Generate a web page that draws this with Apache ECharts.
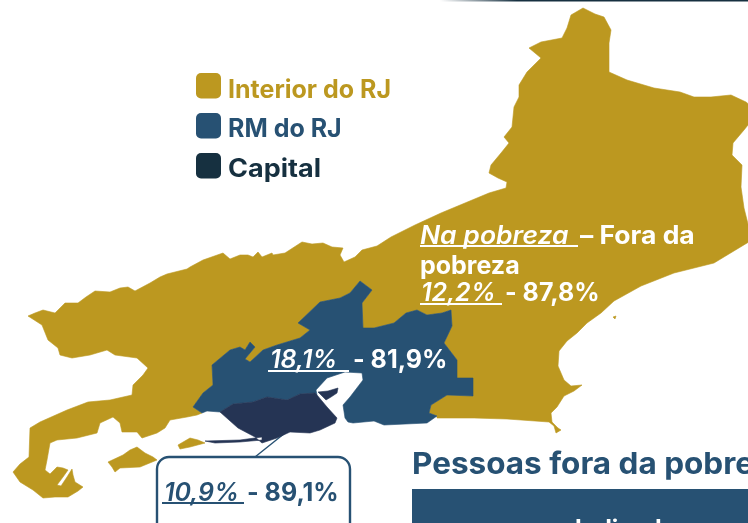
<!DOCTYPE html>
<html><head><meta charset="utf-8">
<style>html,body{margin:0;padding:0;background:#fff;overflow:hidden}#c{width:748px;height:523px}</style>
<script src="https://cdn.jsdelivr.net/npm/echarts@6/dist/echarts.min.js"></script>
</head><body><div id="c"></div>
<script>
// Region names and values (share in poverty, share out of poverty)
var regionNames = ['Interior do RJ', 'RM do RJ', 'Capital'];
var naPobreza = [12.2, 18.1, 10.9];
var foraPobreza = [87.8, 81.9, 89.1];
var regionColors = ['#BC9820', '#275173', '#253454'];
var legendSwatchColors = ['#BC9820', '#275173', '#163040'];
var legendTextColors = ['#BC9820', '#275173', '#163040'];

// Traced outlines of the map geometry (picture coordinates)
var northBorder = [[28,316],[35,313],[43,310],[55,313],[60,308],[65,303],[78,303],[86,297],[95,291],[110,292],[120,288],[128,287],[135,291],[150,283],[160,277],[167,274],[187,269],[190,267],[203,260],[223,253],[230,259],[240,255],[248,255],[253,257],[258,252],[262,257],[272,253],[273,255],[285,253],[302,242],[312,244],[323,243],[332,247],[343,248],[340,255],[344,262],[355,257],[362,250],[377,246],[391,237],[415,225],[441,213],[465,203],[489,193],[506,188],[507,182],[498,178],[489,173],[491,165],[501,153],[509,143],[504,137],[512,127],[514,107],[519,97],[519,85],[527,72],[535,64],[541,58],[535,53],[529,48],[541,42],[562,38],[567,28],[571,15],[583,8],[595,14],[604,17],[611,30],[609,43],[609,72],[627,80],[654,88],[667,90],[680,92],[694,97],[711,97],[731,95],[746,102],[752,107]];
var eastEdge = [[752,120],[744,130],[733,143],[732,155],[742,165],[741,187],[744,208],[749,228],[752,240]];
var southEastCoast = [[714,263],[674,273],[641,286],[614,301],[601,313],[587,323],[577,333],[567,341],[559,351],[558,366],[564,380],[571,386],[582,385],[574,391],[564,396],[557,407],[551,413],[552,422],[558,428],[561,430],[556,433],[554,426],[549,422],[507,419],[474,418],[437,418]];
var divisaRM = [[437,416],[429,413],[431,405],[447,395],[473,396],[473,378],[457,378],[457,360],[444,343],[452,326],[451,310],[442,313],[427,315],[417,310],[406,313],[394,323],[374,328],[363,328],[362,303],[372,290],[360,281],[350,293],[340,298],[320,302],[298,323],[310,330],[300,338],[277,345],[263,350],[250,362],[245,359],[255,347],[250,342],[245,350],[240,347],[230,350],[212,365],[213,385],[203,393],[193,407]];
var southWestCoast = [[202,413],[197,415],[187,417],[170,420],[165,428],[157,433],[142,438],[137,432],[122,432],[120,423],[113,417],[100,423],[97,433],[77,438],[57,440],[50,443],[47,460],[45,470],[50,474],[57,467],[63,468],[68,470],[63,477],[57,485],[61,486],[67,477],[72,469],[73,475],[75,482],[83,487],[78,491],[68,497],[55,497],[43,498],[33,490],[20,482],[13,472],[20,464],[29,457],[30,428],[40,422],[67,410],[88,402],[110,400],[132,395],[133,385],[143,375],[148,368],[137,358],[115,355],[107,350],[90,355],[72,358],[60,355],[58,348],[48,340],[42,325]];
var ilhaGrande = [[108,462],[123,455],[130,450],[137,447],[145,453],[153,457],[157,460],[140,467],[120,468],[115,472],[112,467]];
var marambaia = [[178,445],[190,438],[198,440],[205,443],[190,447],[180,449]];
var ilhaCosta = [[613,317],[616,316],[615,319]];
var rmCoast = [[427,423],[384,425],[374,421],[353,423],[348,422],[345,418],[343,405],[350,397],[363,380],[362,373],[345,372],[327,378],[316,390],[317,395]];
var capitalTop = [[315,393],[300,394],[287,400],[267,397],[253,402],[233,404],[220,412]];
var capitalSouth = [[238,428],[255,437],[262,443],[277,438],[290,432],[310,433],[320,430],[335,423],[337,418],[327,407],[317,395]];
var ilhaGovernador = [[318,392],[328,391],[338,388],[337,393],[331,397],[326,400],[322,396]];
var restingaSliver = [[205,441],[240,440],[262,437],[262,440],[240,442],[215,443]];
var rmWest = [[207,411],[202,413]];

function flip(pts){return pts.map(function(p){return [p[0],-p[1]];});}
function closed(pts){var q=flip(pts);q.push(q[0]);return [q];}
var interiorRing = [].concat(northBorder, eastEdge, southEastCoast, divisaRM, southWestCoast);
var rmRing = [].concat(divisaRM.slice().reverse(), rmCoast, capitalTop, rmWest);
var capitalRing = [].concat(capitalTop, capitalSouth);
var geoJson = {type:'FeatureCollection',features:[
 {type:'Feature',properties:{name:regionNames[0]},geometry:{type:'MultiPolygon',coordinates:[closed(interiorRing),closed(ilhaGrande),closed(marambaia),closed(ilhaCosta)]}},
 {type:'Feature',properties:{name:regionNames[1]},geometry:{type:'Polygon',coordinates:closed(rmRing)}},
 {type:'Feature',properties:{name:regionNames[2]},geometry:{type:'MultiPolygon',coordinates:[closed(capitalRing),closed(ilhaGovernador),closed(restingaSliver)]}}
]};
echarts.registerMap('rj', geoJson);

function pct(v){return v.toFixed(1).replace('.',',')+'%';}
var FONT = 'Inter';
var chart = echarts.init(document.getElementById('c'), null, {renderer:'canvas'});

function txt(x,base,s,fill,size,italic,weight,sx){
  return {type:'text',x:x,y:base,scaleX:sx||1,silent:true,z:10,style:{text:s,fill:fill,fontFamily:FONT,fontSize:size,fontWeight:weight||700,fontStyle:italic?'italic':'normal',verticalAlign:'bottom',lineHeight:size,y:0.24*size}};
}
function rule(x1,x2,y,c,w){return {type:'line',silent:true,z:10,shape:{x1:x1,y1:y,x2:x2,y2:y},style:{stroke:c,lineWidth:w||2}};}
var W='#ffffff', B='#275173';
var legendEls = [];
regionNames.forEach(function(n,i){
  legendEls.push({type:'rect',silent:true,shape:{x:196,y:73+40*i,width:25,height:25.5,r:5},style:{fill:legendSwatchColors[i]}});
  legendEls.push(txt(228,[97,136,176][i],n,legendTextColors[i],25,false,700,[1,1,1.08][i]));
});
chart.setOption({
  animation:false,
  backgroundColor:'#ffffff',
  series:[{type:'map',map:'rj',silent:true,roam:false,aspectScale:1,showLegendSymbol:false,
    boundingCoords:[[0,0],[748,-523]],layoutCenter:[374,261.5],layoutSize:748,
    label:{show:false},emphasis:{disabled:true},select:{disabled:true},
    data:regionNames.map(function(n,i){return {name:n,value:naPobreza[i],itemStyle:{areaColor:regionColors[i],borderColor:regionColors[i],borderWidth:0.6}};})
  }],
  graphic:{elements:legendEls.concat([
    {type:'rect',silent:true,shape:{x:440,y:0,width:308,height:1.6},style:{fill:new echarts.graphic.LinearGradient(0,0,1,0,[{offset:0,color:'rgba(22,48,64,0)'},{offset:0.25,color:'#163040'},{offset:1,color:'#163040'}])}},
    txt(420,243,'Na pobreza',W,25,true,600,1.06),
    rule(420,578,246,W),
    txt(580,243,'– Fora da',W,25,false,700,1.06),
    txt(420,273,'pobreza',W,25),
    txt(421,300,pct(naPobreza[0]),W,25,true,600),
    rule(420,502,304,W),
    txt(505,300,'- '+pct(foraPobreza[0]),W,25),
    txt(270,367,pct(naPobreza[1]),W,25,true,600),
    rule(268,349,371,W),
    txt(353,367,'- '+pct(foraPobreza[1]),W,25),
    {type:'line',silent:true,shape:{x1:295,y1:425,x2:255,y2:457},style:{stroke:B,lineWidth:1.5}},
    {type:'rect',silent:true,shape:{x:157,y:457,width:193,height:80,r:12},style:{fill:'#fff',stroke:B,lineWidth:2.4}},
    txt(164,500,pct(naPobreza[2]),B,25,true,600),
    rule(162,244,503,B),
    txt(247,500,'- '+pct(foraPobreza[2]),B,25),
    txt(412,473,'Pessoas fora da pobreza',B,30,false,700,1.05),
    {type:'rect',silent:true,shape:{x:412,y:489,width:336,height:34},style:{fill:B}},
    txt(575,536,'Indicador',W,24)
  ])}
});
</script></body></html>
